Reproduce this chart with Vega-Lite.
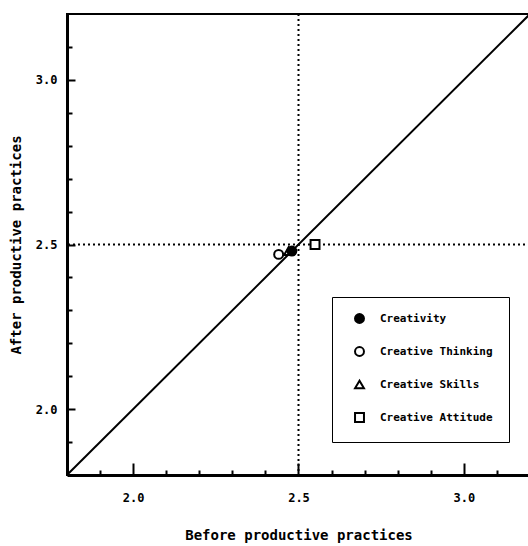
{
  "$schema": "https://vega.github.io/schema/vega-lite/v6.json",
  "autosize": "none",
  "width": 463,
  "height": 461,
  "padding": {"left": 67, "top": 14, "right": 0, "bottom": 71},
  "background": "white",
  "config": {
    "view": {"stroke": "black", "strokeWidth": 2},
    "font": "DejaVu Sans Mono",
    "legend": {"orient": "none", "legendX": 265, "legendY": 283, "title": null, "strokeColor": "black", "fillColor": "white", "padding": 16, "symbolOffset": 6, "rowPadding": 16, "symbolSize": 80, "symbolStrokeWidth": 2, "labelFont": "DejaVu Sans Mono", "labelFontWeight": "bold", "labelFontSize": 11, "labelColor": "black", "labelOffset": 15}
  },
  "datasets": {
    "points": [
      {"dimension": "Creative Thinking", "before": 2.44, "after": 2.47},
      {"dimension": "Creative Skills", "before": 2.47, "after": 2.48},
      {"dimension": "Creativity", "before": 2.48, "after": 2.48},
      {"dimension": "Creative Attitude", "before": 2.55, "after": 2.5}
    ],
    "diagonal": [
      {"before": 1.8, "after": 1.8},
      {"before": 3.2, "after": 3.2}
    ],
    "ref": [{"value": 2.5}]
  },
  "resolve": {"axis": {"x": "independent", "y": "independent"}},
  "layer": [
    {
      "data": {"name": "diagonal"},
      "mark": {"type": "line", "color": "black", "strokeWidth": 2, "clip": true},
      "encoding": {
        "x": {"field": "before", "type": "quantitative", "scale": {"domain": [1.8, 3.2], "nice": false, "zero": false},
          "axis": {"orient": "bottom", "values": [1.9, 2.1, 2.2, 2.3, 2.4, 2.6, 2.7, 2.8, 2.9, 3.1], "tickSize": -5, "tickColor": "black", "tickWidth": 2, "labels": false, "domain": false, "grid": false, "title": null}},
        "y": {"field": "after", "type": "quantitative", "scale": {"domain": [1.8, 3.2], "nice": false, "zero": false},
          "axis": {"orient": "left", "values": [1.9, 2.1, 2.2, 2.3, 2.4, 2.6, 2.7, 2.8, 2.9, 3.1], "tickSize": -5, "tickColor": "black", "tickWidth": 2, "labels": false, "domain": false, "grid": false, "title": null}}
      }
    },
    {
      "data": {"name": "ref"},
      "mark": {"type": "rule", "color": "black", "strokeWidth": 2, "strokeDash": [2, 3]},
      "encoding": {"x": {"field": "value", "type": "quantitative", "axis": null}}
    },
    {
      "data": {"name": "ref"},
      "mark": {"type": "rule", "color": "black", "strokeWidth": 2, "strokeDash": [2, 3]},
      "encoding": {"y": {"field": "value", "type": "quantitative", "axis": null}}
    },
    {
      "data": {"name": "points"},
      "mark": {"type": "point", "filled": true, "strokeWidth": 2, "size": 80, "opacity": 1},
      "encoding": {
        "x": {"field": "before", "type": "quantitative",
          "axis": {"orient": "bottom", "values": [2.0, 2.5, 3.0], "format": ".1f", "tickSize": -12, "tickWidth": 2, "tickColor": "black", "domainColor": "black", "domainWidth": 3, "grid": false, "labelPadding": 29, "labelFont": "DejaVu Sans Mono", "labelFontWeight": "bold", "labelFontSize": 12, "labelColor": "black", "title": "Before productive practices", "titleFont": "DejaVu Sans Mono", "titleFontWeight": "bold", "titleFontSize": 14, "titleColor": "black", "titlePadding": 25}},
        "y": {"field": "after", "type": "quantitative",
          "axis": {"orient": "left", "values": [2.0, 2.5, 3.0], "format": ".1f", "tickSize": -8, "tickWidth": 2, "tickColor": "black", "domainColor": "black", "domainWidth": 3, "grid": false, "labelPadding": 18, "labelFont": "DejaVu Sans Mono", "labelFontWeight": "bold", "labelFontSize": 12, "labelColor": "black", "title": "After productive practices", "titleFont": "DejaVu Sans Mono", "titleFontWeight": "bold", "titleFontSize": 14, "titleColor": "black", "titlePadding": 12}},
        "shape": {"field": "dimension", "type": "nominal",
          "scale": {"domain": ["Creativity", "Creative Thinking", "Creative Skills", "Creative Attitude"], "range": ["circle", "circle", "triangle-up", "square"]}},
        "fill": {"field": "dimension", "type": "nominal",
          "scale": {"domain": ["Creativity", "Creative Thinking", "Creative Skills", "Creative Attitude"], "range": ["black", "white", "white", "white"]}},
        "stroke": {"field": "dimension", "type": "nominal",
          "scale": {"domain": ["Creativity", "Creative Thinking", "Creative Skills", "Creative Attitude"], "range": ["black", "black", "black", "black"]}},
        "order": {"field": "before", "type": "quantitative"}
      }
    }
  ]
}
